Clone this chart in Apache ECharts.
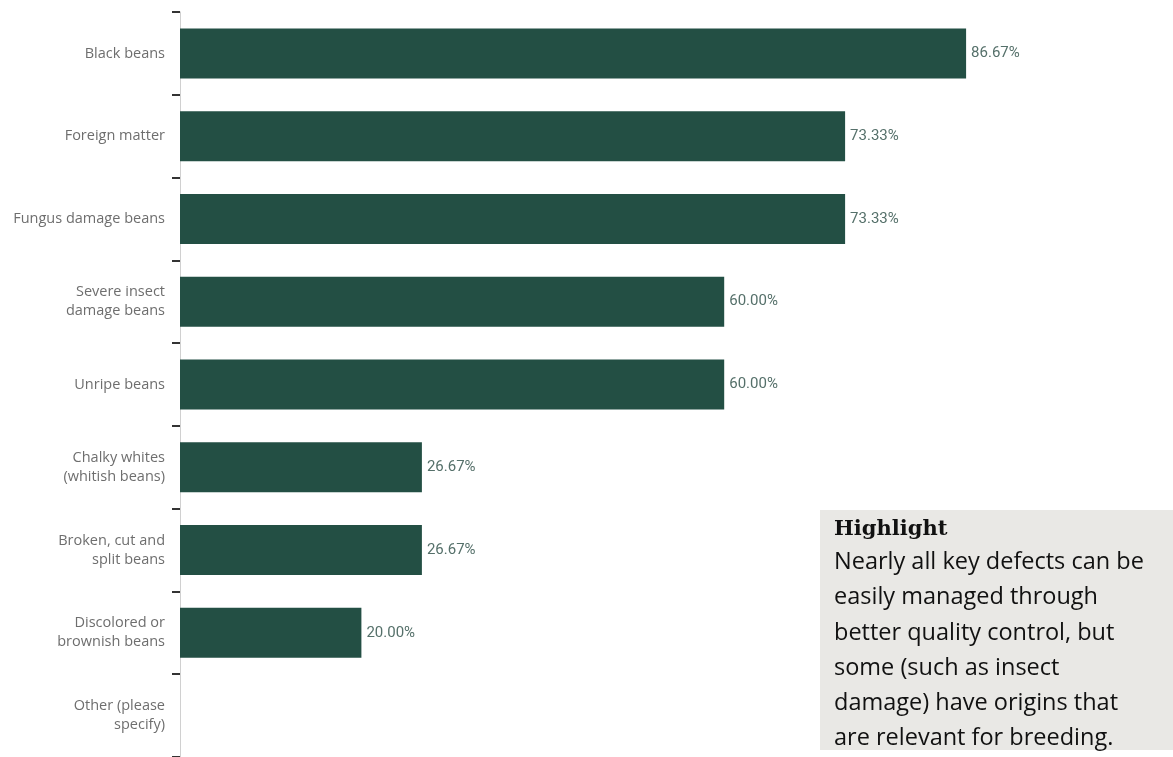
<!DOCTYPE html>
<html><head><meta charset="utf-8">
<script src="https://cdn.jsdelivr.net/npm/echarts@6/dist/echarts.min.js"></script>
<style>html,body{margin:0;padding:0;background:#fff}#c{width:1173px;height:757px}</style>
</head><body><div id="c"></div>
<script>
const categories = ["Black beans","Foreign matter","Fungus damage beans","Severe insect\ndamage beans","Unripe beans","Chalky whites\n(whitish beans)","Broken, cut and\nsplit beans","Discolored or\nbrownish beans","Other (please\nspecify)"];
const values = [86.67,73.33,73.33,60.00,60.00,26.67,26.67,20.00,null];
const highlightTitle = "Highlight";
const highlightLines = ["Nearly all key defects can be","easily managed through","better quality control, but","some (such as insect","damage) have origins that","are relevant for breeding."];

const chart = echarts.init(document.getElementById('c'));
chart.setOption({
  animation:false,
  grid:{left:180, top:12, width:907, height:752, containLabel:false},
  xAxis:{type:'value', min:0, max:100, show:false},
  yAxis:{type:'category', data:categories, inverse:true,
    axisLine:{show:true, lineStyle:{color:'#d0d0d0', width:1}},
    axisTick:{show:true, length:8, lineStyle:{color:'#333', width:2}},
    axisLabel:{color:'#6e6e6e', fontFamily:'Open Sans', fontSize:14.5, margin:15, lineHeight:19, align:'right'}
  },
  series:[{type:'bar', data:values, barWidth:50,
    itemStyle:{color:'#234f44'},
    label:{show:true, position:'right', distance:5, color:'#55706a', fontFamily:'Roboto', fontSize:15,
      formatter:p=> p.value==null?'':p.value.toFixed(2)+'%'}
  }],
  graphic:[
    {type:'rect', shape:{x:820, y:510, width:360, height:240}, style:{fill:'#e9e8e5'}},
    {type:'text', x:834, y:519, style:{text:highlightTitle, font:'bold 21px "DejaVu Serif"', fill:'#111'}},
    {type:'text', x:834, y:545, style:{text:highlightLines.join('\n'), font:'23.5px "Open Sans"', lineHeight:35.2, fill:'#111'}}
  ]
});
</script></body></html>
